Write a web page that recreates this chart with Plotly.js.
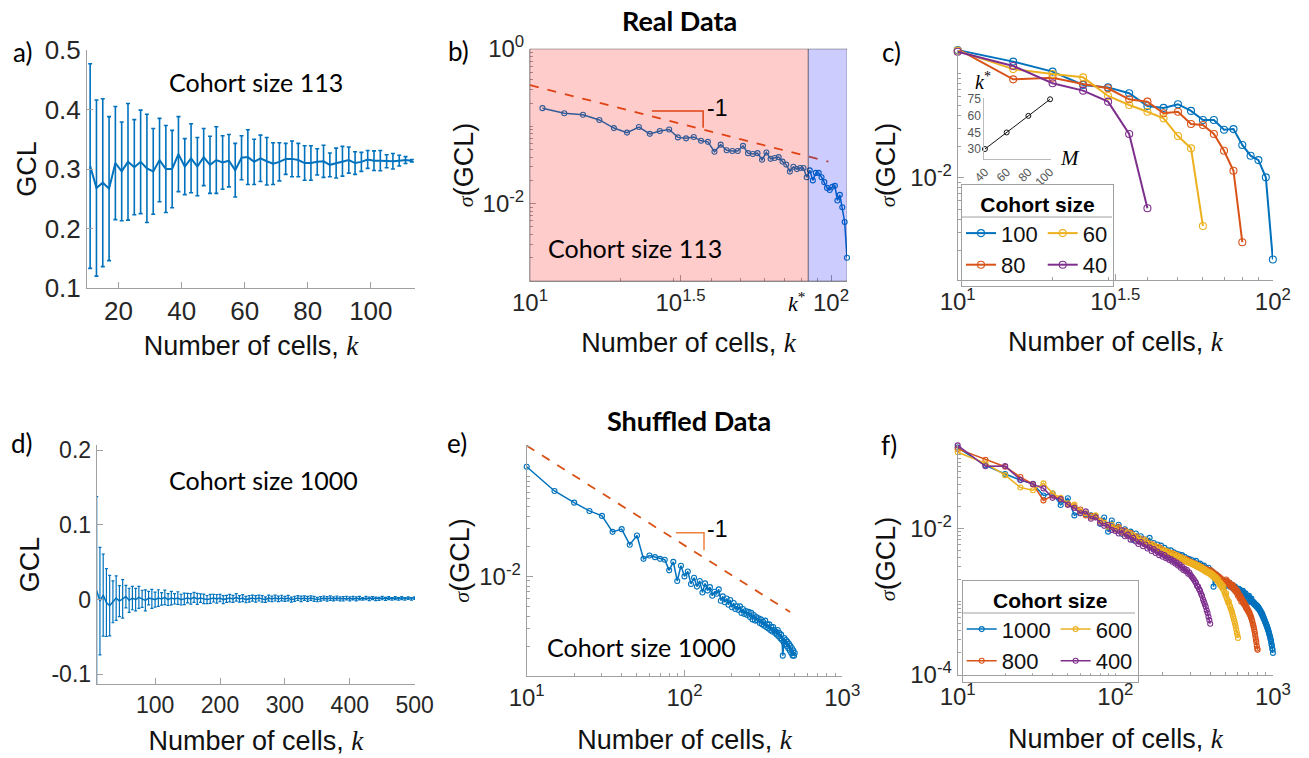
<!DOCTYPE html>
<html><head><meta charset="utf-8">
<script src="https://cdn.plot.ly/plotly-3.0.1.min.js"></script>
<style>html,body{margin:0;padding:0;background:#fff}#chart{width:1309px;height:758px}</style>
</head><body><div id="chart"></div>
<script>
// ---------------- DATA ----------------
// Real data, cohort size 113 (panels a, b)
const kA = [11,13,15,17,19,21,23,25,27,29,31,33,35,37,39,41,43,45,47,49,51,53,55,57,59,61,63,65,67,69,71,73,75,77,79,81,83,85,87,89,91,93,95,97,99,101,103,105,107,109,111,113];
const meanA = [0.305,0.268,0.277,0.267,0.310,0.296,0.312,0.303,0.312,0.301,0.296,0.315,0.300,0.300,0.325,0.304,0.318,0.304,0.320,0.307,0.315,0.311,0.314,0.298,0.319,0.320,0.312,0.318,0.313,0.309,0.312,0.317,0.317,0.315,0.310,0.310,0.312,0.313,0.307,0.310,0.313,0.315,0.310,0.312,0.316,0.314,0.314,0.313,0.313,0.314,0.315,0.314];
const sigmaA = [0.172,0.148,0.141,0.121,0.095,0.083,0.098,0.080,0.087,0.091,0.072,0.070,0.073,0.065,0.063,0.047,0.058,0.049,0.048,0.048,0.056,0.045,0.044,0.045,0.037,0.046,0.038,0.039,0.040,0.035,0.032,0.026,0.030,0.028,0.029,0.029,0.022,0.027,0.020,0.025,0.025,0.022,0.019,0.016,0.015,0.0165,0.017,0.011,0.013,0.009,0.0058,0.002];
const kStar = 84;
const guideBk = [10, 98];
const guideBs = [0.342, 0.0349];
const triBk = [25.4, 37.6, 37.6];
const triBs = [0.158, 0.158, 0.096];

// Real data, different cohort sizes (panel c)
const kC = [10,15,20,25,30,35,40,45,50,55,60,65,70,75,80,85,90,95,100];
const sigC100 = [0.169,0.131,0.105,0.078,0.074,0.065,0.049,0.047,0.051,0.044,0.036,0.036,0.029,0.0294,0.0207,0.0163,0.0148,0.0101,0.00164];
const sigC80 = [0.173,0.0885,0.0918,0.0798,0.0726,0.0569,0.054,0.0417,0.0432,0.0329,0.0322,0.0264,0.0182,0.0117,0.0024];
const sigC60 = [0.167,0.111,0.0995,0.0925,0.0612,0.0501,0.0432,0.0373,0.0252,0.0192,0.00344];
const sigC40 = [0.163,0.119,0.0811,0.0689,0.054,0.0264,0.0051];
const insetM = [40, 60, 80, 100];
const insetK = [30, 45, 60, 75];

// Shuffled data (panels d, e, f)
const kF = [10,15,20,25,30,35,40,45,50,55,60,65,70,75,80,85,90,95,
100,105,110,115,120,125,130,135,140,145,150,155,160,165,170,175,180,185,190,195,
200,205,210,215,220,225,230,235,240,245,250,255,260,265,270,275,280,285,290,295,
300,305,310,315,320,325,330,335,340,345,350,355,360,365,370,375,380,385,390,395,
400,405,410,415,420,425,430,435,440,445,450,455,460,465,470,475,480,485,490,495,
500,505,510,515,520,525,530,535,540,545,550,555,560,565,570,575,580,585,590,595,
600,605,610,615,620,625,630,635,640,645,650,655,660,665,670,675,680,685,690,695,
700,705,710,715,720,725,730,735,740,745,750,755,760,765,770,775,780,785,790,795,
800,805,810,815,820,825,830,835,840,845,850,855,860,865,870,875,880,885,890,895,
900,905,910,915,920,925,930,935,940,945,950,955,960,965,970,975,980,985,990,995,1000];
const kD = kF.slice(0, 99); // 10 .. 500
const meanD = [0.012,-0.002,0.006,-0.004,-0.008,-0.003,0.002,-0.002,0.001,0.004,-0.001,0.002,0.000,0.003,0.001,-0.001,0.002,0.001,
0.000,0.002,0.001,0.003,0.000,0.002,0.001,0.002,0.000,0.001,0.002,0.001,0.003,0.001,0.002,0.001,0.000,0.001,0.002,0.001,
0.002,0.000,0.001,0.002,0.001,0.003,0.001,0.002,0.000,0.001,0.002,0.001,0.002,0.001,0.000,0.002,0.001,0.002,0.001,0.002,
0.001,0.002,0.000,0.001,0.002,0.001,0.002,0.001,0.002,0.001,0.000,0.001,0.002,0.001,0.002,0.001,0.002,0.001,0.001,0.002,
0.001,0.002,0.001,0.002,0.001,0.002,0.001,0.002,0.001,0.001,0.002,0.001,0.002,0.001,0.002,0.001,0.002,0.001,0.002,0.001,0.002];
const sigmaD = [0.126,0.072,0.055,0.0454,0.0405,0.028,0.0298,0.0208,0.0257,0.0150,0.0162,0.0156,0.0150,0.0147,0.0115,0.0140,0.0090,0.0128,
0.0100,0.0112,0.0084,0.0097,0.0079,0.0090,0.0069,0.0085,0.0072,0.0078,0.0064,0.0070,0.0067,0.0074,0.0057,0.0063,0.0055,0.0060,0.0052,0.0058,
0.0049,0.0054,0.0047,0.0050,0.0046,0.0050,0.0043,0.0047,0.0042,0.0045,0.0041,0.0044,0.0039,0.0043,0.0037,0.0041,0.0036,0.0039,0.0036,0.0038,
0.0034,0.0037,0.0033,0.0035,0.0032,0.0036,0.0031,0.0033,0.0030,0.0033,0.0029,0.0031,0.0028,0.0031,0.0029,0.0027,0.0028,0.0026,0.0029,0.0025,
0.0027,0.0024,0.0026,0.0023,0.0016,0.0022,0.0024,0.0021,0.0023,0.0020,0.0022,0.0019,0.0021,0.0018,0.0020,0.0017,0.0019,0.0016,0.0018,0.0016,0.0017];
const guideEk = [10, 467];
const guideEs = [0.205, 0.00439];
const triEk = [88.3, 133, 133];
const triEs = [0.0275, 0.0275, 0.0183];
const sigF1000Tail = [0.0018,0.0019,0.0017,0.0018,0.0017,0.0018,0.0016,0.0017,0.0016,0.0017,0.0016,0.0015,0.0016,0.0015,0.0016,0.0015,0.0014,0.0015,0.0014,
0.0015,0.0014,0.0015,0.0014,0.0013,0.0014,0.0013,0.0014,0.0013,0.0014,0.0013,0.0012,0.0013,0.0012,0.0013,0.0012,0.0011,0.0012,0.0011,0.0012,
0.0011,0.0012,0.0011,0.0010,0.0011,0.0010,0.0011,0.0010,0.00098,0.0010,0.00095,0.00098,0.00092,0.00095,0.00090,0.00092,0.00087,0.00090,0.00085,0.00088,
0.00082,0.00085,0.00080,0.00082,0.00077,0.00078,0.00074,0.00075,0.00070,0.00071,0.00067,0.00068,0.00063,0.00064,0.00060,0.00060,0.00057,0.00056,0.00054,0.00052,
0.00051,0.00049,0.00048,0.00046,0.00045,0.00043,0.00042,0.00040,0.00039,0.00037,0.00036,0.00034,0.00033,0.00031,0.00030,0.00028,0.00026,0.00025,0.00023,0.00022,0.00020];
const sigF1000 = sigmaD.concat(sigF1000Tail);
const sigF800 = [0.121,0.086,0.069,0.050,0.040,0.024,0.028,0.025,0.021,0.020,0.018,0.015,0.0148,0.0142,0.0128,0.0118,0.0110,0.0105,
0.0098,0.0104,0.0088,0.0093,0.0080,0.0086,0.0073,0.0078,0.0070,0.0066,0.0071,0.0060,0.0064,0.0058,0.0061,0.0054,0.0057,0.0052,0.0055,0.0050,
0.0051,0.0047,0.0049,0.0045,0.0047,0.0043,0.0046,0.0042,0.0044,0.0040,0.0042,0.0039,0.0041,0.0038,0.0039,0.0036,0.0038,0.0035,0.0037,0.0034,
0.0035,0.0033,0.0034,0.0032,0.0033,0.0031,0.0032,0.0030,0.0031,0.0029,0.0030,0.0028,0.0029,0.0028,0.0027,0.0028,0.0026,0.0027,0.0025,0.0026,
0.0027,0.0025,0.0026,0.0024,0.0025,0.0023,0.0024,0.0022,0.0023,0.0022,0.0021,0.0022,0.0020,0.0021,0.0020,0.0019,0.0020,0.0019,0.0018,0.0019,
0.0019,0.0020,0.0018,0.0019,0.0018,0.0017,0.0018,0.0017,0.0016,0.0017,0.0016,0.0017,0.0015,0.0016,0.0015,0.0014,0.0015,0.0014,0.0013,0.0014,
0.0012,0.0013,0.0012,0.0011,0.0012,0.0011,0.0010,0.0011,0.00105,0.00098,0.0010,0.00092,0.00096,0.00088,0.00090,0.00082,0.00085,0.00078,0.00080,0.00074,
0.00075,0.00070,0.00071,0.00066,0.00065,0.00061,0.00060,0.00056,0.00054,0.00050,0.00048,0.00045,0.00042,0.00039,0.00036,0.00033,0.00030,0.00028,0.00025,0.00023,
0.00022];
const sigF600 = [0.109,0.077,0.053,0.036,0.033,0.041,0.030,0.026,0.022,0.021,0.017,0.016,0.0140,0.0150,0.0125,0.0120,0.0105,0.0112,
0.0096,0.0100,0.0090,0.0085,0.0088,0.0079,0.0081,0.0072,0.0075,0.0068,0.0064,0.0069,0.0059,0.0062,0.0057,0.0059,0.0053,0.0056,0.0050,0.0053,
0.0048,0.0050,0.0046,0.0048,0.0044,0.0046,0.0042,0.0045,0.0041,0.0043,0.0039,0.0041,0.0038,0.0040,0.0036,0.0038,0.0035,0.0036,0.0034,0.0035,
0.0033,0.0034,0.0032,0.0033,0.0031,0.0032,0.0030,0.0031,0.0029,0.0030,0.0028,0.0029,0.0027,0.0028,0.0026,0.0027,0.0025,0.0026,0.0025,0.0024,
0.0025,0.0023,0.0024,0.0022,0.0023,0.0021,0.0022,0.0020,0.0021,0.0019,0.0020,0.0018,0.0017,0.0018,0.0016,0.0017,0.0015,0.0016,0.0014,0.0013,
0.0012,0.0013,0.0011,0.00105,0.00097,0.0010,0.00090,0.00086,0.00080,0.00076,0.00072,0.00066,0.00062,0.00058,0.00054,0.00050,0.00046,0.00042,0.00038,0.00035,
0.00032];
const sigF400 = [0.135,0.070,0.0705,0.046,0.040,0.035,0.026,0.025,0.021,0.019,0.016,0.017,0.0135,0.0140,0.0118,0.0108,0.0112,0.0095,
0.0092,0.0085,0.0094,0.0078,0.0082,0.0070,0.0074,0.0066,0.0061,0.0065,0.0057,0.0060,0.0053,0.0055,0.0049,0.0052,0.0046,0.0048,0.0043,0.0045,
0.0041,0.0043,0.0039,0.0040,0.0037,0.0038,0.0035,0.0036,0.0033,0.0034,0.0031,0.0032,0.0029,0.0030,0.0027,0.0028,0.0026,0.0027,0.0024,0.0025,
0.0023,0.0022,0.0021,0.0020,0.0019,0.0018,0.00165,0.0016,0.00148,0.0014,0.00128,0.0012,0.00108,0.0010,0.00092,0.00085,0.00076,0.00070,0.00062,0.00056,
0.0005];

// ---------------- STYLE / LAYOUT ----------------
const W = 1309, H = 758;
const px = x => x / W;
const py = y => 1 - y / H;
const BLUE = '#0072BD', ORANGE = '#D95319', YELLOW = '#EDB120', PURPLE = '#7E2F8E';
const SANS = 'Liberation Sans, Arial, Helvetica, sans-serif';
const SERIF = 'Liberation Serif, Times New Roman, serif';
const HUM = 'Lato, Open Sans, sans-serif';
const TICKFONT = {family: SANS, size: 24, color: '#262626'};
const TICKFONT_A = {family: SANS, size: 26, color: '#262626'};
const TICKFONT_D = {family: SANS, size: 23, color: '#262626'};
const TITLEFONT = {family: SANS, size: 27, color: '#111'};
const AXLINE = '#a0a0a0';
const XT = 'Number of cells, <span style="font-family:Liberation Serif"><i>k</i></span>';
const ST = '<span style="font-family:Liberation Serif;font-size:22px"><i>σ</i></span>(GCL)';
const sup = (b, e) => b + '<sup>' + e + '</sup>';

function ax(o) {
  return Object.assign({
    showline: true, linecolor: AXLINE, linewidth: 1, mirror: false,
    ticks: 'inside', ticklen: 6, tickcolor: AXLINE, tickwidth: 1,
    showgrid: false, zeroline: false, tickfont: TICKFONT, fixedrange: true
  }, o);
}
function minor(vals) { return {tickmode: 'array', tickvals: vals, ticks: 'inside', ticklen: 3, tickcolor: AXLINE, showgrid: false}; }
const mX1 = [20,30,40,50,60,70,80,90];
const mX2 = [20,30,40,50,60,70,80,90,200,300,400,500,600,700,800,900];
const allMinorY = [];
[1e-4,1e-3,1e-2,1e-1].forEach(d => { for (let i = 1; i <= 9; i++) allMinorY.push(i * d); });

const LEG_C = {x0: 961, x1: 1112, y0: 184, y1: 277, sep: 217};
const LEG_F = {x0: 961.7, x1: 1135, y0: 580, y1: 673.3, sep: 613};

const layout = {
  width: W, height: H, margin: {l: 0, r: 0, t: 0, b: 0},
  paper_bgcolor: '#fff', plot_bgcolor: 'rgba(0,0,0,0)', showlegend: true,
  font: {family: SANS, color: '#111'},
  // a
  xaxis: ax({domain: [px(87), px(415)], anchor: 'y', range: [10, 114], tickvals: [20,40,60,80,100], tickfont: TICKFONT_A,
    title: {text: XT, font: TITLEFONT, standoff: 10}}),
  yaxis: ax({domain: [py(288), py(50)], anchor: 'x', range: [0.1, 0.5], tickvals: [0.1,0.2,0.3,0.4,0.5], ticktext: ['0.1','0.2','0.3','0.4','0.5'], tickfont: TICKFONT_A,
    title: {text: 'GCL', font: TITLEFONT, standoff: 0}}),
  // b
  xaxis2: ax({domain: [px(530), px(847)], anchor: 'y2', type: 'log', range: [1, Math.log10(113)],
    tickvals: [10, Math.pow(10,1.5), 100], ticktext: [sup('10','1'), sup('10','1.5'), sup('10','2')], minor: minor(mX1),
    title: {text: XT, font: TITLEFONT, standoff: 18}}),
  yaxis2: ax({domain: [py(281), py(49)], anchor: 'x2', type: 'log', range: [-3, 0.0005],
    tickvals: [1, 0.01], ticktext: [sup('10','0'), sup('10','-2')], minor: minor(allMinorY),
    title: {text: ST, font: TITLEFONT, standoff: 1}}),
  // c
  xaxis3: ax({domain: [px(957.7), px(1273)], anchor: 'y3', type: 'log', range: [1, 2.0005],
    tickvals: [10, Math.pow(10,1.5), 100], ticktext: [sup('10','1'), sup('10','1.5'), sup('10','2')], minor: minor(mX1),
    title: {text: XT, font: TITLEFONT, standoff: 18}}),
  yaxis3: ax({domain: [py(280), py(50)], anchor: 'x3', type: 'log', range: [-2.983, -0.771],
    tickvals: [0.01], ticktext: [sup('10','-2')], minor: minor(allMinorY),
    title: {text: ST, font: TITLEFONT, standoff: 6}}),
  // d
  xaxis4: ax({domain: [px(96.7), px(415)], anchor: 'y4', range: [10, 500.5], tickvals: [100,200,300,400,500], tickfont: TICKFONT_D,
    title: {text: XT, font: TITLEFONT, standoff: 14}}),
  yaxis4: ax({domain: [py(684), py(445)], anchor: 'x4', range: [-0.113, 0.207], tickvals: [-0.1,0,0.1,0.2], ticktext: ['-0.1','0','0.1','0.2'], tickfont: TICKFONT_D,
    title: {text: 'GCL', font: TITLEFONT, standoff: 4}}),
  // e
  xaxis5: ax({domain: [px(526.7), px(842.3)], anchor: 'y5', type: 'log', range: [1, 3.0005],
    tickvals: [10, 100, 1000], ticktext: [sup('10','1'), sup('10','2'), sup('10','3')], minor: minor(mX2),
    title: {text: XT, font: TITLEFONT, standoff: 20}}),
  yaxis5: ax({domain: [py(676), py(445)], anchor: 'x5', type: 'log', range: [-3.0, -0.681],
    tickvals: [0.01], ticktext: [sup('10','-2')], minor: minor(allMinorY),
    title: {text: ST, font: TITLEFONT, standoff: 1}}),
  // f
  xaxis6: ax({domain: [px(957.7), px(1273)], anchor: 'y6', type: 'log', range: [1, 3.0005],
    tickvals: [10, 100, 1000], ticktext: [sup('10','1'), sup('10','2'), sup('10','3')], minor: minor(mX2),
    title: {text: XT, font: TITLEFONT, standoff: 20}}),
  yaxis6: ax({domain: [py(675), py(443)], anchor: 'x6', type: 'log', range: [-4.0005, -0.837],
    tickvals: [0.01, 0.0001], ticktext: [sup('10','-2'), sup('10','-4')], minor: minor(allMinorY),
    title: {text: ST, font: TITLEFONT, standoff: 6}}),
  // inset in c
  xaxis7: ax({domain: [px(984.3), px(1050.5)], anchor: 'y7', range: [39.4, 100.4], tickvals: [40,60,80,100], tickangle: -45,
    ticks: '', tickfont: {family: SANS, size: 12, color: '#555'}, linecolor: '#bbb'}),
  yaxis7: ax({domain: [py(159.3), py(98.3)], anchor: 'x7', range: [20.7, 75.9], tickvals: [30,45,60,75],
    ticks: '', tickfont: {family: SANS, size: 12, color: '#555'}, linecolor: '#bbb'}),
  legend: {
    x: px(LEG_C.x0), y: py(LEG_C.y0), xanchor: 'left', yanchor: 'top', orientation: 'h', traceorder: 'grouped',
    bgcolor: 'rgba(0,0,0,0)', bordercolor: '#a0a0a0', borderwidth: 1,
    font: {family: SANS, size: 22, color: '#111'},
    title: {text: '<b>Cohort size</b>', side: 'top center', font: {family: SANS, size: 21, color: '#000'}}
  },
  legend2: {
    x: px(LEG_F.x0), y: py(LEG_F.y0), xanchor: 'left', yanchor: 'top', orientation: 'h', traceorder: 'grouped',
    bgcolor: 'rgba(0,0,0,0)', bordercolor: '#a0a0a0', borderwidth: 1,
    font: {family: SANS, size: 22, color: '#111'},
    title: {text: '<b>Cohort size</b>', side: 'top center', font: {family: SANS, size: 21, color: '#000'}}
  },
  shapes: [
    {type: 'rect', xref: 'x2', yref: 'y2 domain', x0: 10, x1: kStar, y0: 0, y1: 1, layer: 'above',
      fillcolor: 'rgba(255,0,0,0.2)', line: {color: 'rgba(0,0,0,0.3)', width: 1}},
    {type: 'rect', xref: 'x2', yref: 'y2 domain', x0: kStar, x1: 113, y0: 0, y1: 1, layer: 'above',
      fillcolor: 'rgba(0,0,255,0.2)', line: {color: 'rgba(0,0,0,0.3)', width: 1}}
  ],
  annotations: []
};
[LEG_C, LEG_F].forEach(L => {
  layout.shapes.push({type: 'rect', xref: 'paper', yref: 'paper', x0: px(L.x0), x1: px(L.x1), y0: py(L.y1), y1: py(L.y0),
    layer: 'above', fillcolor: '#fff', line: {width: 0}});
  layout.shapes.push({type: 'line', xref: 'paper', yref: 'paper', x0: px(L.x0), x1: px(L.x1), y0: py(L.sep), y1: py(L.sep),
    layer: 'above', line: {color: '#a0a0a0', width: 1}});
});

function note(text, x, y, opts) {
  layout.annotations.push(Object.assign({text: text, x: x, y: y, xref: 'paper', yref: 'paper', showarrow: false,
    xanchor: 'center', yanchor: 'middle', font: {family: HUM, size: 25, color: '#000'}}, opts || {}));
}
const LBL = {font: {family: HUM, size: 26, color: '#000'}};
note('a)', px(22), py(52.5), LBL);
note('b)', px(458), py(51), LBL);
note('c)', px(891), py(52.5), LBL);
note('d)', px(22), py(443), LBL);
note('e)', px(456.7), py(442.5), LBL);
note('f)', px(889), py(445), LBL);
note('<b>Real Data</b>', px(679), py(20), {font: {family: HUM, size: 27, color: '#000'}});
note('<b>Shuffled Data</b>', px(689), py(420), {font: {family: HUM, size: 27, color: '#000'}});
note('Cohort size 113', px(256), py(81.7));
note('Cohort size 113', px(635), py(248.3));
note('Cohort size 1000', px(263), py(480));
note('Cohort size 1000', px(641.7), py(646.7));
note('-1', Math.log10(38.1), Math.log10(0.171), {xref: 'x2', yref: 'y2', xanchor: 'left', font: {family: SANS, size: 23, color: '#000'}});
note('-1', Math.log10(135), Math.log10(0.0302), {xref: 'x5', yref: 'y5', xanchor: 'left', font: {family: SANS, size: 23, color: '#000'}});
note('<i>k</i><sup>*</sup>', Math.log10(kStar), py(302), {xref: 'x2', xanchor: 'right', xshift: -1, font: {family: SERIF, size: 22, color: '#000'}});
note('<i>k</i><sup>*</sup>', px(983), py(81), {font: {family: SERIF, size: 20, color: '#000'}});
note('<i>M</i>', px(1070), py(158), {font: {family: SERIF, size: 21, color: '#000'}});

const line = (c, w) => ({color: c, width: w});
const mk = (c, s) => ({symbol: 'circle-open', size: s, color: c, line: {width: 1.1, color: c}});

const data = [
  // a
  {x: kA, y: meanA, xaxis: 'x', yaxis: 'y', type: 'scatter', mode: 'lines', line: line(BLUE, 2), showlegend: false,
    error_y: {type: 'data', array: sigmaA, visible: true, color: BLUE, thickness: 1.6, width: 2}},
  // b
  {x: kA, y: sigmaA, xaxis: 'x2', yaxis: 'y2', type: 'scatter', mode: 'lines+markers', line: line(BLUE, 1.5), marker: mk(BLUE, 5), showlegend: false, cliponaxis: false},
  {x: guideBk, y: guideBs, xaxis: 'x2', yaxis: 'y2', type: 'scatter', mode: 'lines', line: {color: ORANGE, width: 1.8, dash: 'dash'}, showlegend: false},
  {x: triBk, y: triBs, xaxis: 'x2', yaxis: 'y2', type: 'scatter', mode: 'lines', line: line(ORANGE, 1.5), showlegend: false},
  // c
  {x: kC, y: sigC100, name: '100', legend: 'legend', legendgroup: 'c1', xaxis: 'x3', yaxis: 'y3', type: 'scatter', mode: 'lines+markers', line: line(BLUE, 2), marker: mk(BLUE, 7), cliponaxis: false},
  {x: kC.slice(0, sigC80.length), y: sigC80, name: '80', legend: 'legend', legendgroup: 'c1', xaxis: 'x3', yaxis: 'y3', type: 'scatter', mode: 'lines+markers', line: line(ORANGE, 2), marker: mk(ORANGE, 7), cliponaxis: false},
  {x: kC.slice(0, sigC60.length), y: sigC60, name: '60', legend: 'legend', legendgroup: 'c2', xaxis: 'x3', yaxis: 'y3', type: 'scatter', mode: 'lines+markers', line: line(YELLOW, 2), marker: mk(YELLOW, 7), cliponaxis: false},
  {x: kC.slice(0, sigC40.length), y: sigC40, name: '40', legend: 'legend', legendgroup: 'c2', xaxis: 'x3', yaxis: 'y3', type: 'scatter', mode: 'lines+markers', line: line(PURPLE, 2), marker: mk(PURPLE, 7), cliponaxis: false},
  // inset
  {x: insetM, y: insetK, xaxis: 'x7', yaxis: 'y7', type: 'scatter', mode: 'lines+markers', line: line('#111', 1), marker: {symbol: 'circle-open', size: 5, color: '#111', line: {width: 1, color: '#111'}}, showlegend: false, cliponaxis: false},
  // d
  {x: kD, y: meanD, xaxis: 'x4', yaxis: 'y4', type: 'scatter', mode: 'lines', line: line(BLUE, 1.5), showlegend: false,
    error_y: {type: 'data', array: sigmaD, visible: true, color: BLUE, thickness: 1.2, width: 1.5}},
  // e
  {x: kD, y: sigmaD, xaxis: 'x5', yaxis: 'y5', type: 'scatter', mode: 'lines+markers', line: line(BLUE, 1.5), marker: mk(BLUE, 5), showlegend: false, cliponaxis: false},
  {x: guideEk, y: guideEs, xaxis: 'x5', yaxis: 'y5', type: 'scatter', mode: 'lines', line: {color: ORANGE, width: 1.8, dash: 'dash'}, showlegend: false},
  {x: triEk, y: triEs, xaxis: 'x5', yaxis: 'y5', type: 'scatter', mode: 'lines', line: line('#F08040', 1.5), showlegend: false},
  // f
  {x: kF, y: sigF1000, name: '1000', legend: 'legend2', legendgroup: 'f1', xaxis: 'x6', yaxis: 'y6', type: 'scatter', mode: 'lines+markers', line: line(BLUE, 1.5), marker: mk(BLUE, 5), cliponaxis: false},
  {x: kF.slice(0, sigF800.length), y: sigF800, name: '800', legend: 'legend2', legendgroup: 'f1', xaxis: 'x6', yaxis: 'y6', type: 'scatter', mode: 'lines+markers', line: line(ORANGE, 1.5), marker: mk(ORANGE, 5), cliponaxis: false},
  {x: kF.slice(0, sigF600.length), y: sigF600, name: '600', legend: 'legend2', legendgroup: 'f2', xaxis: 'x6', yaxis: 'y6', type: 'scatter', mode: 'lines+markers', line: line(YELLOW, 1.5), marker: mk(YELLOW, 5), cliponaxis: false},
  {x: kF.slice(0, sigF400.length), y: sigF400, name: '400', legend: 'legend2', legendgroup: 'f2', xaxis: 'x6', yaxis: 'y6', type: 'scatter', mode: 'lines+markers', line: line(PURPLE, 1.5), marker: mk(PURPLE, 5), cliponaxis: false}
];
data.forEach(t => { if (t.showlegend === undefined) t.showlegend = true; });

Plotly.newPlot('chart', data, layout, {displayModeBar: false, staticPlot: true});
</script>
</body></html>
